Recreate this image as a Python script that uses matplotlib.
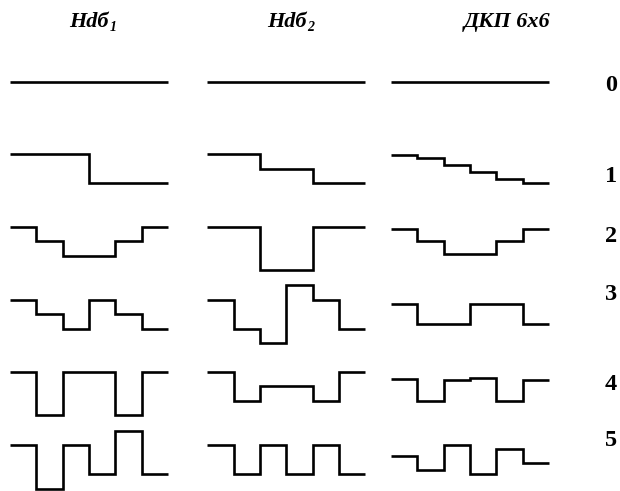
import matplotlib
matplotlib.use("Agg")
import matplotlib.pyplot as plt
import numpy as np

# data: basis functions, 6 samples each, rows 0..5
row_labels = ["0", "1", "2", "3", "4", "5"]
col_titles = [("Hdб", "1"), ("Hdб", "2"), ("ДКП 6x6", "")]

hd1 = [
    [1, 1, 1, 1, 1, 1],
    [1, 1, 1, -1, -1, -1],
    [1, 0, -1, -1, 0, 1],
    [1, 0, -1, 1, 0, -1],
    [1, -2, 1, 1, -2, 1],
    [1, -2, 1, -1, 2, -1],
]
hd2 = [
    [1, 1, 1, 1, 1, 1],
    [1, 1, 0, 0, -1, -1],
    [1, 1, -2, -2, 1, 1],
    [1, -1, -2, 2, 1, -1],
    [1, -1, 0, 0, -1, 1],
    [1, -1, 1, -1, 1, -1],
]
dct = [
    [1, 1, 1, 1, 1, 1],
    [0.97, 0.71, 0.26, -0.26, -0.71, -0.97],
    [0.87, 0, -0.87, -0.87, 0, 0.87],
    [0.71, -0.71, -0.71, 0.71, 0.71, -0.71],
    [0.53, -1, 0.46, 0.57, -1, 0.46],
    [0.26, -0.71, 0.97, -0.97, 0.71, -0.26],
]
columns = [hd1, hd2, dct]

# layout (pixel space)
col_x0 = [10, 207.3, 391]
seg_w = 26.3
row_base = [96.2, 168.6, 241.3, 314, 386.3, 459.5]
unit = 14.5
title_x = [93, 291, 507]
title_y = 22
label_x = 611
label_y = [85, 176, 236, 294, 384, 441]

serif = ["Liberation Serif", "DejaVu Serif"]

fig = plt.figure(figsize=(6.2, 4.91), dpi=100)
ax = fig.add_axes([0, 0, 1, 1])
ax.set_xlim(0, 620)
ax.set_ylim(491, 0)
ax.axis("off")

for c, data in enumerate(columns):
    xs = col_x0[c] + seg_w * np.arange(7)
    for r, vals in enumerate(data):
        v = np.array(vals + [vals[-1]], dtype=float)
        ys = row_base[r] - unit * v
        ax.step(xs, ys, where="post", color="black", lw=1.9,
                solid_joinstyle="miter", solid_capstyle="butt")

# column titles (bold italic serif, with subscript)
fig.canvas.draw()
renderer = fig.canvas.get_renderer()
inv = ax.transData.inverted()
for c, (main, sub) in enumerate(col_titles):
    t = ax.text(title_x[c], title_y, main, family=serif,
                style="italic", weight="bold", fontsize=16, ha="center", va="center")
    if sub:
        # shift main text left a bit so text + subscript is centred
        t.set_x(title_x[c] - 4)
        bb = t.get_window_extent(renderer=renderer)
        x1 = inv.transform((bb.x1, bb.y0))[0]
        ax.text(x1 + 0.5, title_y + 5, sub, family=serif, style="italic",
                weight="bold", fontsize=10, ha="left", va="center")

# row labels
for r, lab in enumerate(row_labels):
    ax.text(label_x, label_y[r], lab, family=serif, weight="bold",
            fontsize=17.5, ha="center", va="center")

fig.savefig("out.png", dpi=100)
